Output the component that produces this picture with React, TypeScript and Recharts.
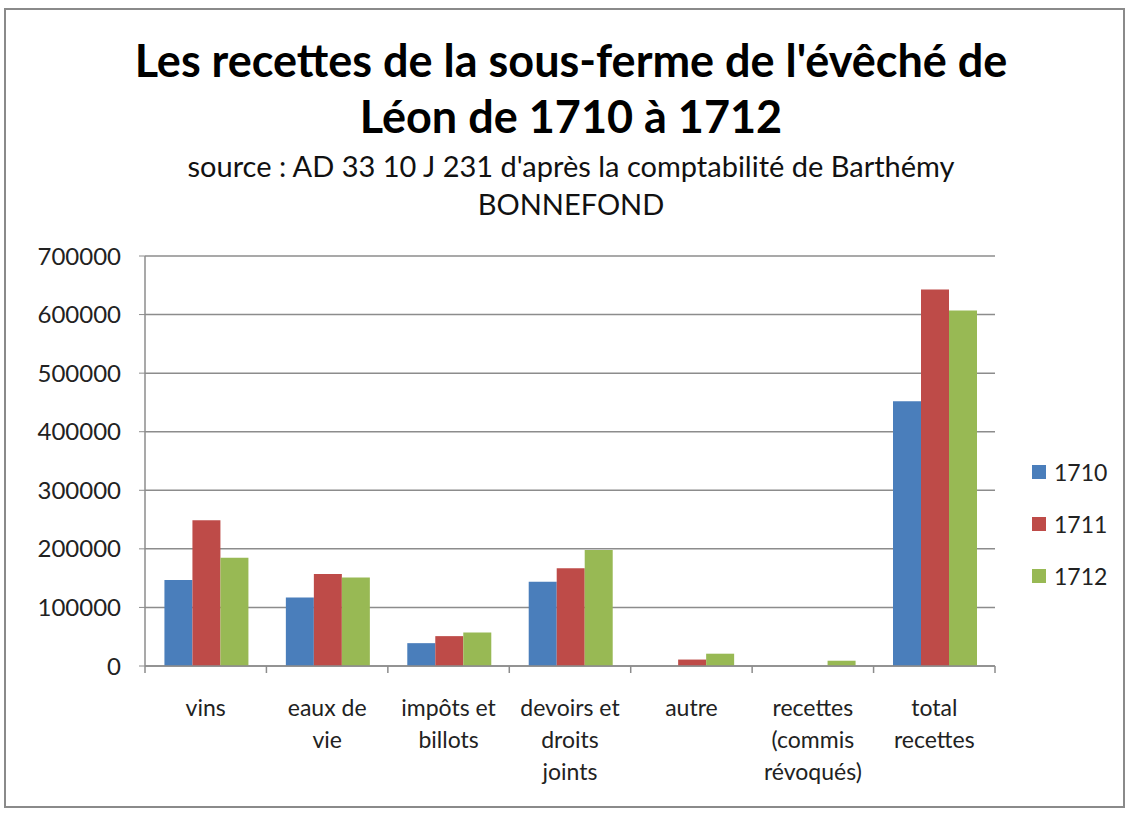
import React from "react";

//recharts
import {
  BarChart,
  Bar,
  XAxis,
  YAxis,
  CartesianGrid,
  Legend,
} from "recharts";

//data
const categories = [
  "vins",
  "eaux de\nvie",
  "impôts et\nbillots",
  "devoirs et\ndroits\njoints",
  "autre",
  "recettes\n(commis\nrévoqués)",
  "total\nrecettes",
];
const values1710 = [147000, 117000, 39000, 144000, 0, 0, 452000];
const values1711 = [249000, 157000, 51000, 167000, 11000, 0, 643000];
const values1712 = [185000, 151000, 57000, 198000, 21000, 9000, 607000];
const yTicks = [0, 100000, 200000, 300000, 400000, 500000, 600000, 700000];
const seriesNames = ["1710", "1711", "1712"];
const colors = ["#4a7ebb", "#be4b48", "#98b954"];

const data = categories.map((name, i) => ({
  name,
  "1710": values1710[i],
  "1711": values1711[i],
  "1712": values1712[i],
}));

const FONT = "Lato, 'Open Sans', sans-serif";

// multi-line category label + tick marks between categories (like Excel)
const CategoryTick = (props: any) => {
  const { x, y, payload, index, visibleTicksCount } = props;
  const lines = String(payload.value).split("\n");
  const half = payload.offset || 0;
  const isLast = index === (visibleTicksCount || categories.length) - 1;
  return (
    <g transform={`translate(${x},${y})`}>
      <line x1={-half} x2={-half} y1={-8} y2={-1} stroke="#8c8c8c" strokeWidth={1.5} />
      {isLast && (
        <line x1={half} x2={half} y1={-8} y2={-1} stroke="#8c8c8c" strokeWidth={1.5} />
      )}
      {lines.map((line, i) => (
        <text
          key={i}
          x={0}
          y={42 + i * 32}
          textAnchor="middle"
          fill="#222"
          fontSize={23}
          fontFamily={FONT}
        >
          {line}
        </text>
      ))}
    </g>
  );
};

const LegendBox = () => (
  <div style={{ fontFamily: FONT, fontSize: 23, color: "#222" }}>
    {seriesNames.map((n, i) => (
      <div
        key={n}
        style={{ display: "flex", alignItems: "center", height: 52 }}
      >
        <span
          style={{
            width: 14,
            height: 14,
            background: colors[i],
            display: "inline-block",
            marginRight: 8,
          }}
        />
        {n}
      </div>
    ))}
  </div>
);

const App = () => {
  return (
    <div
      style={{
        position: "absolute",
        left: 0,
        top: 0,
        width: 1131,
        height: 814,
        background: "#fff",
        fontFamily: FONT,
      }}
    >
      <div
        style={{
          position: "absolute",
          left: 4,
          top: 8,
          width: 1121,
          height: 800,
          border: "2px solid #8a8a8a",
          boxSizing: "border-box",
        }}
      />
      <div
        style={{
          position: "absolute",
          left: 0,
          top: 32,
          width: 1142,
          textAlign: "center",
          fontWeight: 700,
          fontSize: 45,
          lineHeight: "56px",
          color: "#000",
        }}
      >
        Les recettes de la sous-ferme de l'évêché de
        <br />
        Léon de 1710 à 1712
      </div>
      <div
        style={{
          position: "absolute",
          left: 0,
          top: 147,
          width: 1142,
          textAlign: "center",
          fontSize: 29,
          lineHeight: "38px",
          color: "#111",
        }}
      >
        source : AD 33 10 J 231 d'après la comptabilité de Barthémy
        <br />
        BONNEFOND
      </div>
      <div style={{ position: "absolute", left: 0, top: 0 }}>
        <BarChart
          width={1131}
          height={814}
          data={data}
          margin={{ top: 256, right: 36, left: 0, bottom: 28 }}
          barCategoryGap="16%"
          barGap={0}
        >
          <CartesianGrid vertical={false} stroke="#8c8c8c" strokeWidth={1.5} />
          <XAxis
            dataKey="name"
            height={120}
            interval={0}
            tick={<CategoryTick />}
            tickLine={false}
            axisLine={{ stroke: "#8c8c8c", strokeWidth: 1.5 }}
          />
          <YAxis
            width={145}
            domain={[0, 700000]}
            ticks={yTicks}
            interval={0}
            tick={{ fontSize: 24, fill: "#222", fontFamily: FONT }}
            tickMargin={18}
            tickSize={6}
            tickLine={{ stroke: "#8c8c8c" }}
            axisLine={{ stroke: "#8c8c8c", strokeWidth: 1.5 }}
          />
          <Legend
            layout="vertical"
            align="right"
            verticalAlign="top"
            content={<LegendBox />}
            wrapperStyle={{ left: 1032, top: 446, width: 100 }}
          />
          {seriesNames.map((n, i) => (
            <Bar
              key={n}
              dataKey={n}
              fill={colors[i]}
              isAnimationActive={false}
            />
          ))}
        </BarChart>
      </div>
    </div>
  );
};

export default App;
